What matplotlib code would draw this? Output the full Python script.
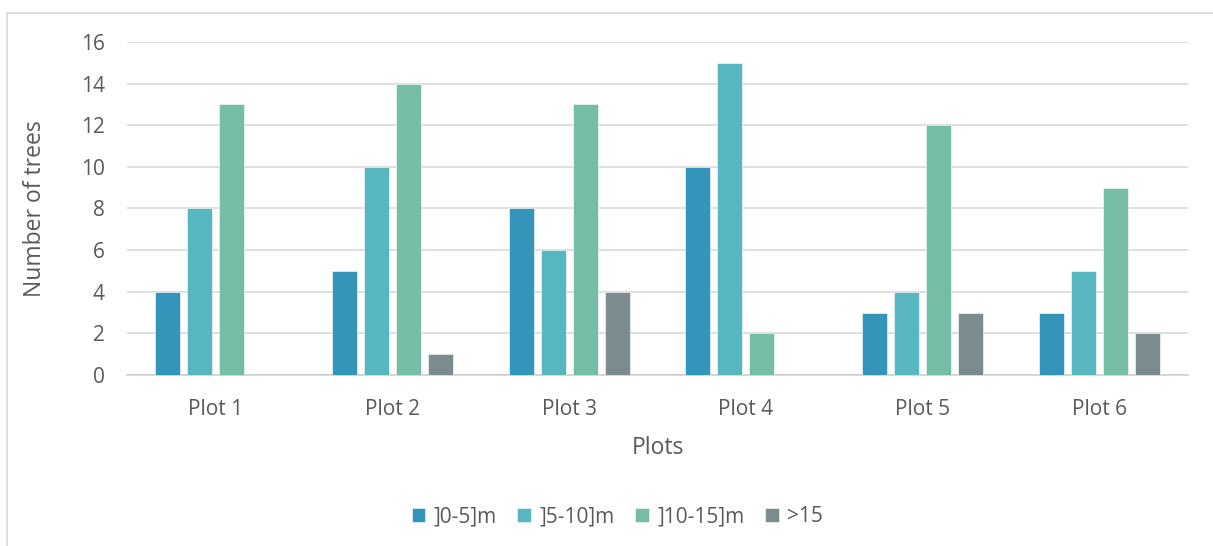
import numpy as np
import matplotlib
matplotlib.use("Agg")
from matplotlib import pyplot as plt
from matplotlib.lines import Line2D

plt.rcParams['font.family'] = ['Open Sans', 'DejaVu Sans']

plots = ["Plot 1", "Plot 2", "Plot 3", "Plot 4", "Plot 5", "Plot 6"]
series_names = ["]0-5]m", "]5-10]m", "]10-15]m", ">15"]
h_0_5 = [4, 5, 8, 10, 3, 3]
h_5_10 = [8, 10, 6, 15, 4, 5]
h_10_15 = [13, 14, 13, 2, 12, 9]
h_15_plus = [0, 1, 4, 0, 3, 2]
colors = ["#3494BA", "#58B6C0", "#75BDA7", "#7A8C8E"]
text_col = "#595959"

fig = plt.figure(figsize=(12.13, 5.46), dpi=100)
ax = fig.add_axes([0.1047, 0.3132, 0.8747, 0.6099])

# outer chart frame (only left/top visible)
fig.add_artist(Line2D([0.0058, 0.0058], [0.0, 0.976], color="#d9d9d9", lw=1.2, transform=fig.transFigure))
fig.add_artist(Line2D([0.0058, 1.0], [0.976, 0.976], color="#d9d9d9", lw=1.2, transform=fig.transFigure))

x = np.arange(len(plots))
width = 0.141
step = 0.181
for i, (vals, name) in enumerate(zip([h_0_5, h_5_10, h_10_15, h_15_plus], series_names)):
    ax.bar(x + (i - 1.5) * step, vals, width, color=colors[i], label=name,
           edgecolor="white", linewidth=0.4, zorder=3)

ax.set_xlim(-0.5, len(plots) - 0.5)
ax.set_ylim(0, 16)
ax.set_yticks(range(0, 17, 2))
ax.set_xticks(x)
ax.set_xticklabels(plots)
ax.yaxis.grid(True, color="#d9d9d9", lw=1.2, zorder=0)
for s in ["top", "right", "left"]:
    ax.spines[s].set_visible(False)
ax.spines["bottom"].set_color("#d0d0d0")
ax.spines["bottom"].set_linewidth(1.2)
ax.tick_params(axis="both", length=0, colors=text_col, labelsize=15)
ax.tick_params(axis="x", pad=17)
ax.tick_params(axis="y", pad=16)

ax.set_ylabel("Number of trees", fontsize=16.5, color=text_col, va="center")
ax.set_xlabel("Plots", fontsize=16.5, color=text_col, va="center")
ax.yaxis.set_label_coords(-0.0867, 0.5)
ax.xaxis.set_label_coords(0.5, -0.218)

ax.legend(loc="center", bbox_to_anchor=(0.462, -0.426), ncol=4, frameon=False,
          fontsize=15, labelcolor=text_col, handlelength=0.65, handleheight=0.65,
          handletextpad=0.4, columnspacing=1.0)

fig.savefig("out.png", dpi=100)
